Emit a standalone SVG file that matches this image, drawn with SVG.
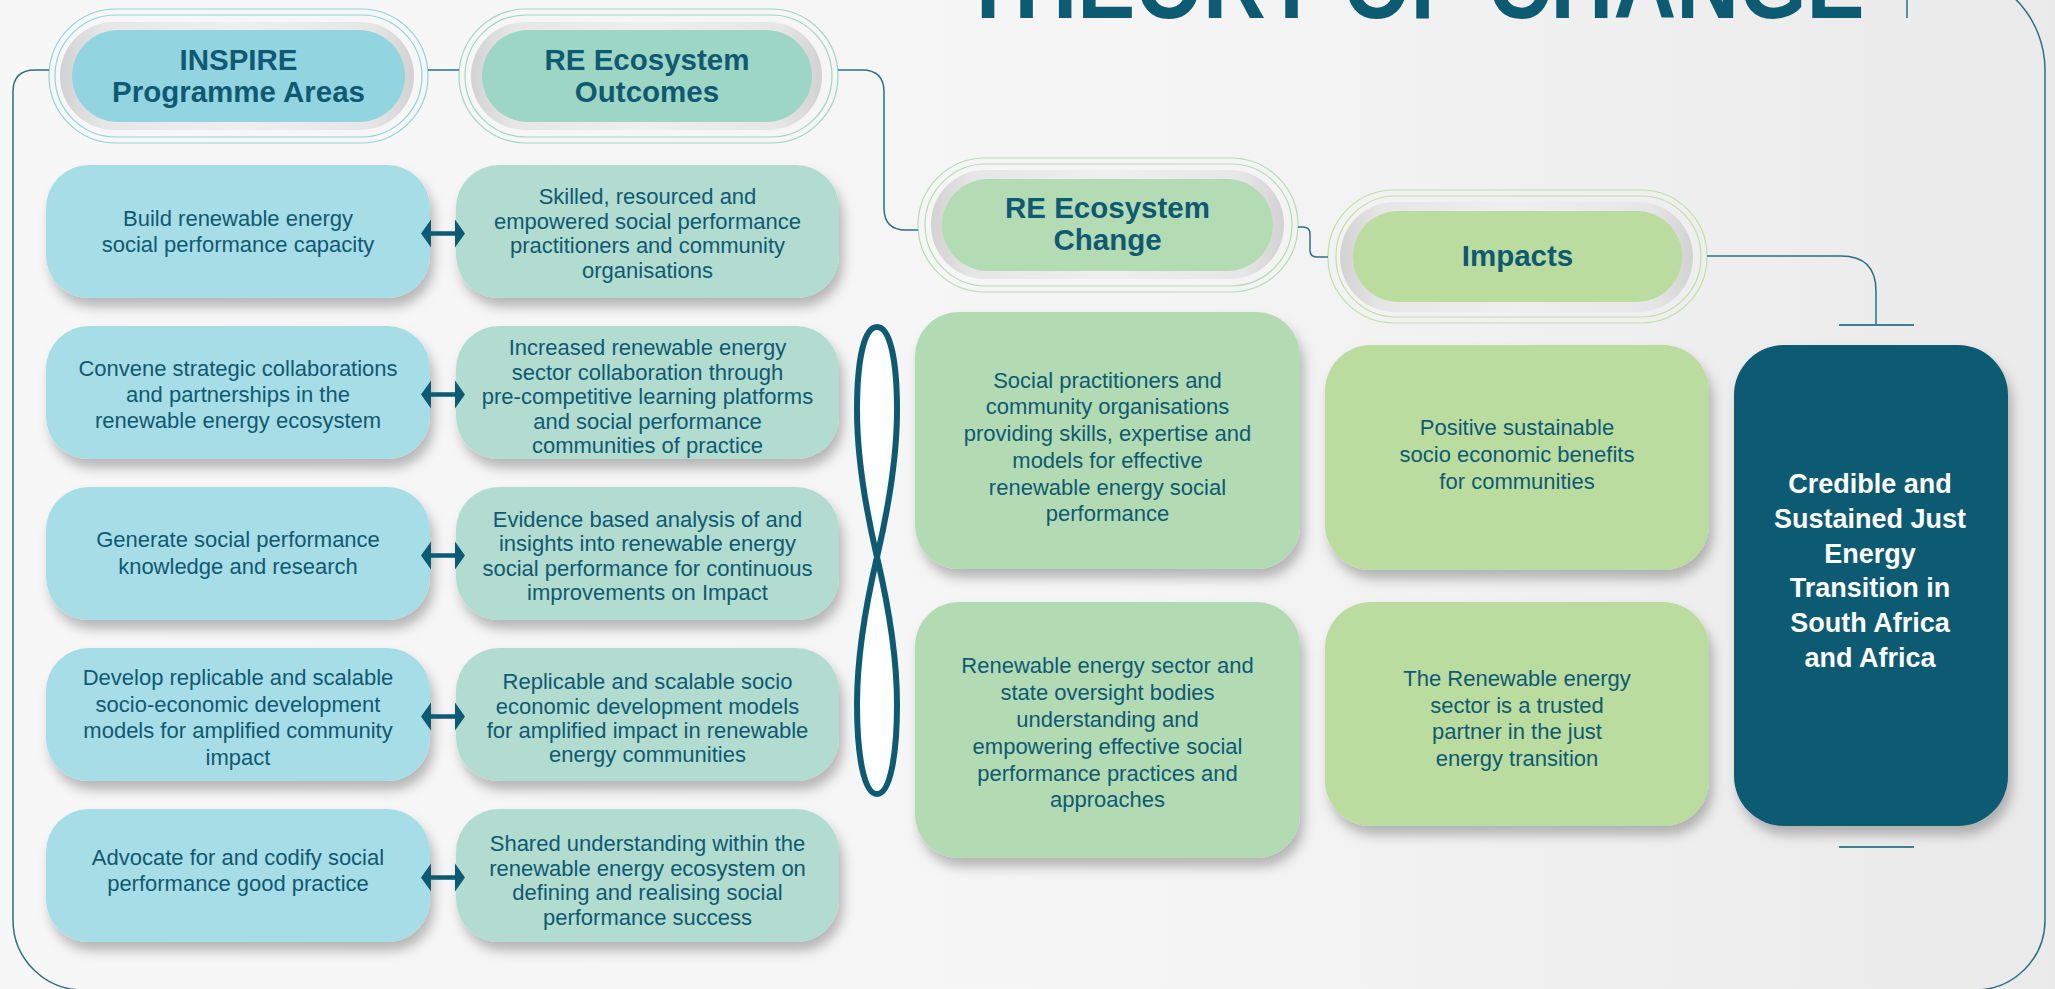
<svg xmlns="http://www.w3.org/2000/svg" width="2055" height="989" viewBox="0 0 2055 989">
<defs>
<style>
.t{font-family:"Liberation Sans",Arial,sans-serif;font-size:22px;fill:#0f5a72;text-anchor:middle}
.h{font-family:"Liberation Sans",Arial,sans-serif;font-size:29.5px;font-weight:bold;fill:#0f5a72;text-anchor:middle}
.w{font-family:"Liberation Sans",Arial,sans-serif;font-size:27px;font-weight:bold;fill:#ffffff;text-anchor:middle}
.ln{fill:none;stroke:#2c6f87;stroke-width:1.5}
.tick{fill:none;stroke:#3f7f96;stroke-width:2}
.ring{fill:url(#ringG)}
.o{fill:none;stroke-width:1.2}
.pa{fill:#a7dde6}
.oc{fill:#b1dccf}
.ch{fill:#b2dab3}
.im{fill:#badc9f}
.arr{fill:#0d5a73}
</style>
<linearGradient id="bg" x1="0" y1="0" x2="1" y2="0">
<stop offset="0" stop-color="#f7f7f7"/>
<stop offset="0.55" stop-color="#f5f5f5"/>
<stop offset="1" stop-color="#eaeaea"/>
</linearGradient>
<linearGradient id="ringG" x1="0" y1="0" x2="1" y2="0">
<stop offset="0" stop-color="#d2d2d2"/>
<stop offset="0.12" stop-color="#e6e6e6"/>
<stop offset="0.5" stop-color="#efefef"/>
<stop offset="0.88" stop-color="#e6e6e6"/>
<stop offset="1" stop-color="#d2d2d2"/>
</linearGradient>
<filter id="sh" x="-10%" y="-10%" width="125%" height="135%">
<feDropShadow dx="4" dy="9" stdDeviation="6" flood-color="#000" flood-opacity="0.26"/>
</filter>
<path id="dbl" d="M421,0 L431,-14 L431,-2.3 L455,-2.3 L455,-14 L465,0 L455,14 L455,2.3 L431,2.3 L431,14 Z"/>
</defs>

<rect x="0" y="0" width="2055" height="989" fill="url(#bg)"/>

<text x="1413" y="18" font-family="Liberation Sans,Arial,sans-serif" font-size="100" font-weight="bold" fill="#0d5a73" text-anchor="middle" textLength="903" lengthAdjust="spacingAndGlyphs">THEORY OF CHANGE</text>

<g id="hdr-inspire">
<rect class="o" x="49" y="9" width="379" height="134" rx="67" stroke="#8fd3df"/>
<rect class="o" x="55" y="15" width="367" height="122" rx="61" stroke="#8fd3df"/>
<rect class="ring" x="60" y="22" width="354" height="108" rx="54"/>
<rect x="72" y="30" width="333" height="92" rx="46" fill="#92d5e0"/>
<text class="h" x="238.5" y="70">INSPIRE</text>
<text class="h" x="238.5" y="102">Programme Areas</text>
</g>

<g id="hdr-outcomes">
<rect class="o" x="459" y="9" width="379" height="134" rx="67" stroke="#9dd6c4"/>
<rect class="o" x="465" y="15" width="367" height="122" rx="61" stroke="#9dd6c4"/>
<rect class="ring" x="471" y="22" width="351" height="108" rx="54"/>
<rect x="482" y="30" width="330" height="92" rx="46" fill="#9dd6c4"/>
<text class="h" x="647" y="70">RE Ecosystem</text>
<text class="h" x="647" y="102">Outcomes</text>
</g>

<g id="hdr-change">
<rect class="o" x="918" y="158" width="380" height="134" rx="67" stroke="#b3dcb4"/>
<rect class="o" x="925" y="164" width="367" height="122" rx="61" stroke="#b3dcb4"/>
<rect class="ring" x="931" y="170" width="353" height="109" rx="54"/>
<rect x="942" y="179" width="331" height="92" rx="46" fill="#b3dcb4"/>
<text class="h" x="1107.5" y="218">RE Ecosystem</text>
<text class="h" x="1107.5" y="250">Change</text>
</g>

<g id="hdr-impacts">
<rect class="o" x="1328" y="190" width="379" height="133" rx="66" stroke="#bfe0a3"/>
<rect class="o" x="1336" y="196" width="365" height="121" rx="60" stroke="#bfe0a3"/>
<rect class="ring" x="1340" y="202" width="353" height="110" rx="55"/>
<rect x="1353" y="211" width="329" height="91" rx="45" fill="#badc9f"/>
<text class="h" x="1517.5" y="266">Impacts</text>
</g>

<g id="pa1"><rect class="pa" x="46" y="165" width="384" height="133" rx="43" filter="url(#sh)"/>
<text class="t" x="238" y="225.5">Build renewable energy</text>
<text class="t" x="238" y="251.5">social performance capacity</text></g>
<g id="pa2"><rect class="pa" x="46" y="326" width="384" height="133" rx="43" filter="url(#sh)"/>
<text class="t" x="238" y="375.5">Convene strategic collaborations</text>
<text class="t" x="238" y="402">and partnerships in the</text>
<text class="t" x="238" y="428">renewable energy ecosystem</text></g>
<g id="pa3"><rect class="pa" x="46" y="487" width="384" height="133" rx="43" filter="url(#sh)"/>
<text class="t" x="238" y="547">Generate social performance</text>
<text class="t" x="238" y="573.5">knowledge and research</text></g>
<g id="pa4"><rect class="pa" x="46" y="648" width="384" height="133" rx="43" filter="url(#sh)"/>
<text class="t" x="238" y="685">Develop replicable and scalable</text>
<text class="t" x="238" y="711.5">socio-economic development</text>
<text class="t" x="238" y="738">models for amplified community</text>
<text class="t" x="238" y="764.5">impact</text></g>
<g id="pa5"><rect class="pa" x="46" y="809" width="384" height="133" rx="43" filter="url(#sh)"/>
<text class="t" x="238" y="864.5">Advocate for and codify social</text>
<text class="t" x="238" y="891">performance good practice</text></g>

<g id="oc1"><rect class="oc" x="456" y="165" width="383" height="133" rx="43" filter="url(#sh)"/>
<text class="t" x="647.5" y="204">Skilled, resourced and</text>
<text class="t" x="647.5" y="228.5">empowered social performance</text>
<text class="t" x="647.5" y="253">practitioners and community</text>
<text class="t" x="647.5" y="277.5">organisations</text></g>
<g id="oc2"><rect class="oc" x="456" y="326" width="383" height="133" rx="43" filter="url(#sh)"/>
<text class="t" x="647.5" y="355">Increased renewable energy</text>
<text class="t" x="647.5" y="379.5">sector collaboration through</text>
<text class="t" x="647.5" y="404">pre-competitive learning platforms</text>
<text class="t" x="647.5" y="428.5">and social performance</text>
<text class="t" x="647.5" y="453">communities of practice</text></g>
<g id="oc3"><rect class="oc" x="456" y="487" width="383" height="133" rx="43" filter="url(#sh)"/>
<text class="t" x="647.5" y="526.5">Evidence based analysis of and</text>
<text class="t" x="647.5" y="551">insights into renewable energy</text>
<text class="t" x="647.5" y="575.5">social performance for continuous</text>
<text class="t" x="647.5" y="600">improvements on Impact</text></g>
<g id="oc4"><rect class="oc" x="456" y="648" width="383" height="133" rx="43" filter="url(#sh)"/>
<text class="t" x="647.5" y="689">Replicable and scalable socio</text>
<text class="t" x="647.5" y="713.5">economic development models</text>
<text class="t" x="647.5" y="738">for amplified impact in renewable</text>
<text class="t" x="647.5" y="762">energy communities</text></g>
<g id="oc5"><rect class="oc" x="456" y="809" width="383" height="133" rx="43" filter="url(#sh)"/>
<text class="t" x="647.5" y="851">Shared understanding within the</text>
<text class="t" x="647.5" y="875.5">renewable energy ecosystem on</text>
<text class="t" x="647.5" y="900">defining and realising social</text>
<text class="t" x="647.5" y="924.5">performance success</text></g>

<g id="ch1"><rect class="ch" x="915" y="312" width="385" height="257" rx="44" filter="url(#sh)"/>
<text class="t" x="1107.5" y="387.5">Social practitioners and</text>
<text class="t" x="1107.5" y="414.3">community organisations</text>
<text class="t" x="1107.5" y="441">providing skills, expertise and</text>
<text class="t" x="1107.5" y="467.8">models for effective</text>
<text class="t" x="1107.5" y="494.5">renewable energy social</text>
<text class="t" x="1107.5" y="521.3">performance</text></g>
<g id="ch2"><rect class="ch" x="915" y="602" width="385" height="256" rx="44" filter="url(#sh)"/>
<text class="t" x="1107.5" y="673">Renewable energy sector and</text>
<text class="t" x="1107.5" y="700">state oversight bodies</text>
<text class="t" x="1107.5" y="727">understanding and</text>
<text class="t" x="1107.5" y="753.5">empowering effective social</text>
<text class="t" x="1107.5" y="780.5">performance practices and</text>
<text class="t" x="1107.5" y="807">approaches</text></g>

<g id="im1"><rect class="im" x="1325" y="345" width="384" height="225" rx="46" filter="url(#sh)"/>
<text class="t" x="1517" y="435">Positive sustainable</text>
<text class="t" x="1517" y="462">socio economic benefits</text>
<text class="t" x="1517" y="489">for communities</text></g>
<g id="im2"><rect class="im" x="1325" y="602" width="384" height="224" rx="46" filter="url(#sh)"/>
<text class="t" x="1517" y="686">The Renewable energy</text>
<text class="t" x="1517" y="712.5">sector is a trusted</text>
<text class="t" x="1517" y="739">partner in the just</text>
<text class="t" x="1517" y="766">energy transition</text></g>

<g id="goal"><rect x="1734" y="345" width="274" height="481" rx="50" fill="#0d5a73" filter="url(#sh)"/>
<text class="w" x="1870" y="493">Credible and</text>
<text class="w" x="1870" y="528">Sustained Just</text>
<text class="w" x="1870" y="562.5">Energy</text>
<text class="w" x="1870" y="597">Transition in</text>
<text class="w" x="1870" y="632">South Africa</text>
<text class="w" x="1870" y="667">and Africa</text></g>

<g id="connectors">
<path class="ln" d="M49,70 H35 Q13,70 13,92 V920 A70,70 0 0 0 83,990 H1975 A70,70 0 0 0 2045,920 V70 A100,100 0 0 0 1945,-30 H1000"/>
<path class="ln" d="M428,70 H459"/>
<path class="ln" d="M838,70 H862 Q884,70 884,92 V208 Q884,230 906,230 H918"/>
<path class="ln" d="M1298,227 H1303 Q1310,227 1310,234 V250 Q1310,257 1317,257 H1328"/>
<path class="ln" d="M1707,256 H1841 Q1876,256 1876,291 V325"/>
<path class="tick" d="M1839,325 H1914"/>
<path class="tick" d="M1839,847 H1914"/>
<path class="ln" d="M1907,0 V18"/>
<use href="#dbl" class="arr" y="233.5"/>
<use href="#dbl" class="arr" y="394.5"/>
<use href="#dbl" class="arr" y="555.5"/>
<use href="#dbl" class="arr" y="716.5"/>
<use href="#dbl" class="arr" y="877.5"/>
<path d="M877,557 C888,510 897,460 897,410 C897,360 890,327 877,327 C864,327 857,360 857,410 C857,460 866,510 877,557 C888,604 897,654 897,704 C897,756 890,794 877,794 C864,794 857,756 857,704 C857,654 866,604 877,557 Z" fill="#ffffff" stroke="#0d5a73" stroke-width="6"/>
</g>
</svg>
